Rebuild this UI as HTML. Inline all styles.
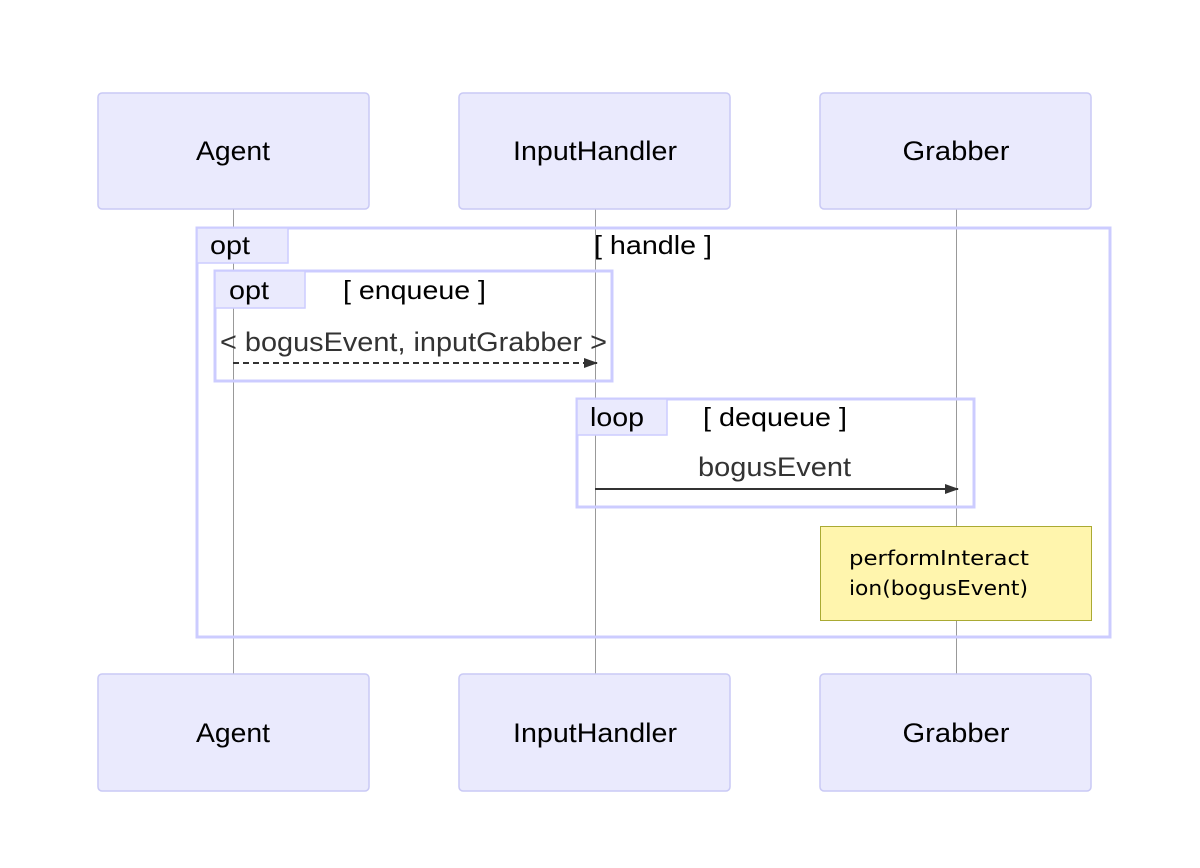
<!DOCTYPE html>
<html><head><meta charset="utf-8"><style>body{margin:0;background:#fff}svg{display:block}</style></head>
<body>
<svg width="1200" height="868" viewBox="0 0 1200 868" xmlns="http://www.w3.org/2000/svg" font-family="'Liberation Sans', Arial, sans-serif">
<rect width="1200" height="868" fill="#fff"/>
<defs><marker id="a" markerWidth="14" markerHeight="10" refX="13" refY="5" orient="auto" markerUnits="userSpaceOnUse"><path d="M0,0 L14,5 L0,10 z" fill="#333"/></marker></defs>
<g stroke="#999" stroke-width="1">
<line x1="233.5" y1="209" x2="233.5" y2="674"/>
<line x1="595.5" y1="209" x2="595.5" y2="674"/>
<line x1="956.5" y1="209" x2="956.5" y2="674"/>
</g>
<g fill="#eaeafd" stroke="#c9c9f5" stroke-width="1.5">
<rect x="98" y="93" width="271" height="116" rx="4"/>
<rect x="459" y="93" width="271" height="116" rx="4"/>
<rect x="820" y="93" width="271" height="116" rx="4"/>
<rect x="98" y="674" width="271" height="117" rx="4"/>
<rect x="459" y="674" width="271" height="117" rx="4"/>
<rect x="820" y="674" width="271" height="117" rx="4"/>
</g>
<g font-size="27" text-anchor="middle" fill="#000">
<text x="233" y="160" textLength="74" lengthAdjust="spacingAndGlyphs">Agent</text><text x="595" y="160" textLength="164" lengthAdjust="spacingAndGlyphs">InputHandler</text><text x="956" y="160" textLength="107" lengthAdjust="spacingAndGlyphs">Grabber</text>
<text x="233" y="742" textLength="74" lengthAdjust="spacingAndGlyphs">Agent</text><text x="595" y="742" textLength="164" lengthAdjust="spacingAndGlyphs">InputHandler</text><text x="956" y="742" textLength="107" lengthAdjust="spacingAndGlyphs">Grabber</text>
</g>
<g fill="none" stroke="#ccccff" stroke-width="3">
<rect x="197" y="228" width="913" height="409"/>
<rect x="215" y="271" width="397" height="110"/>
<rect x="577" y="399" width="397" height="108"/>
</g>
<g fill="#eaeafd" stroke="#ccccff" stroke-width="1.5">
<path d="M197,228 H288 V263 H197 Z"/>
<path d="M215,271 H305 V308 H215 Z"/>
<path d="M577,399 H667 V435 H577 Z"/>
</g>
<g font-size="26" fill="#000">
<text x="210" y="254" textLength="40" lengthAdjust="spacingAndGlyphs">opt</text>
<text x="594" y="254" textLength="118" lengthAdjust="spacingAndGlyphs">[ handle ]</text>
<text x="229" y="299" textLength="40" lengthAdjust="spacingAndGlyphs">opt</text>
<text x="343" y="299" textLength="143" lengthAdjust="spacingAndGlyphs">[ enqueue ]</text>
<text x="590" y="426" textLength="54" lengthAdjust="spacingAndGlyphs">loop</text>
<text x="703" y="426" textLength="144" lengthAdjust="spacingAndGlyphs">[ dequeue ]</text>
</g>
<g font-size="27" fill="#333">
<text x="220" y="351" textLength="387" lengthAdjust="spacingAndGlyphs">&lt; bogusEvent, inputGrabber &gt;</text>
<text x="698" y="476" textLength="153" lengthAdjust="spacingAndGlyphs">bogusEvent</text>
</g>
<line x1="233" y1="363" x2="597" y2="363" stroke="#333" stroke-width="2" stroke-dasharray="6,4" marker-end="url(#a)"/>
<line x1="595" y1="489" x2="958" y2="489" stroke="#333" stroke-width="2" marker-end="url(#a)"/>
<rect x="820.5" y="526.5" width="271" height="94" fill="#fff5ad" stroke="#aaaa33" stroke-width="1"/>
<g font-family="'DejaVu Sans', sans-serif" font-size="20" fill="#000">
<text x="849" y="565" textLength="180" lengthAdjust="spacingAndGlyphs">performInteract</text>
<text x="849" y="595" textLength="179" lengthAdjust="spacingAndGlyphs">ion(bogusEvent)</text>
</g>
</svg>
</body></html>
